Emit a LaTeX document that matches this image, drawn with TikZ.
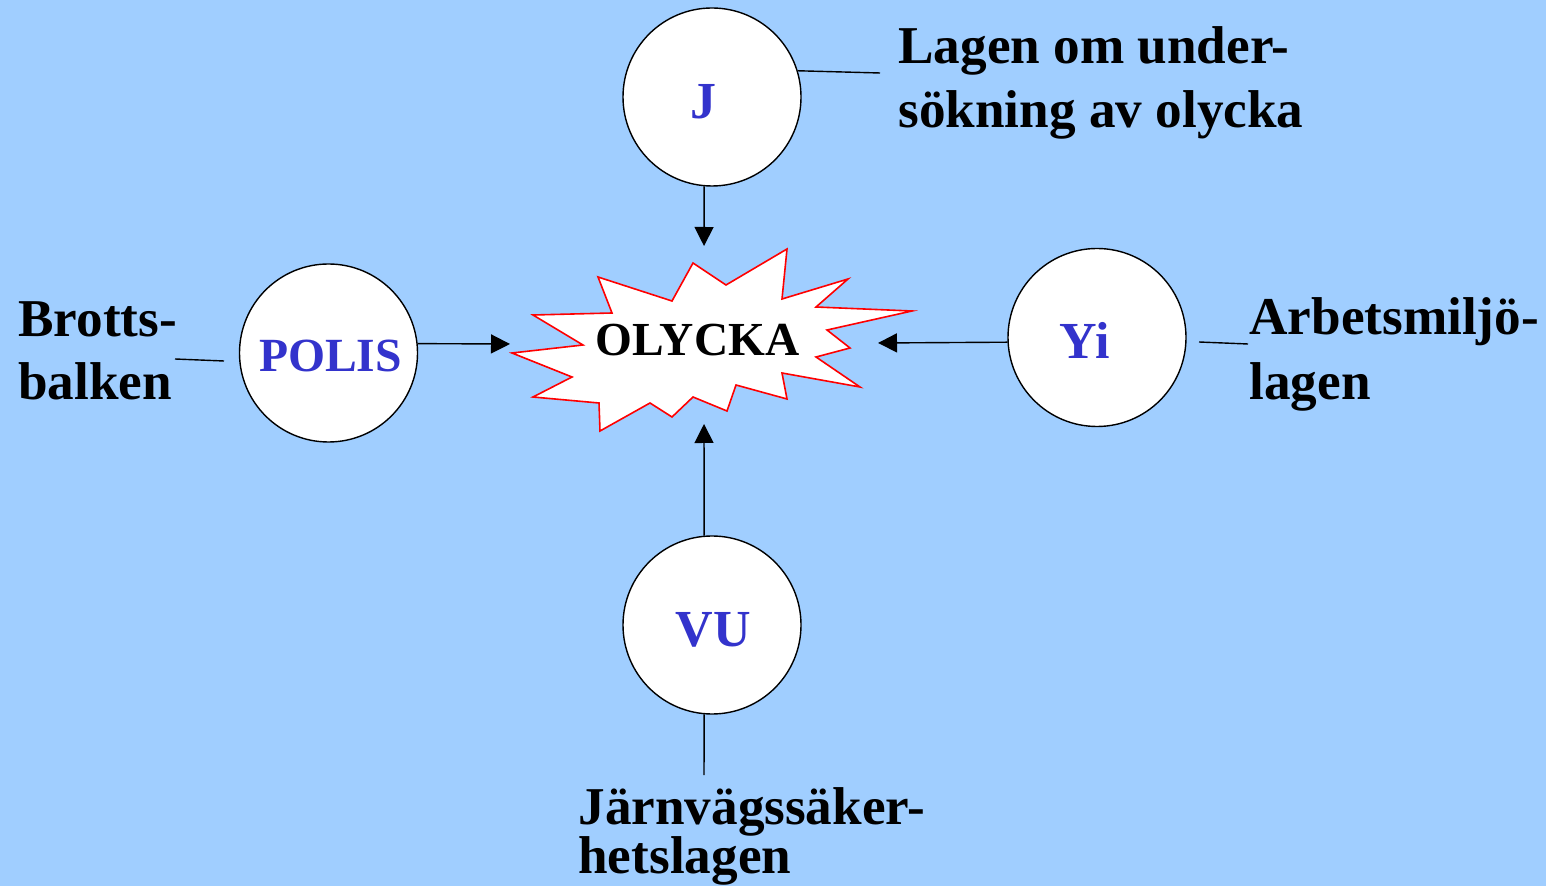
\documentclass[tikz,border=0pt]{standalone}
\usepackage{fontspec}
\setmainfont{Liberation Serif}
\usetikzlibrary{arrows.meta}
\definecolor{bg}{RGB}{160,206,255}
\definecolor{lettblue}{RGB}{51,51,204}
\newcommand\twoln[3]{\vtop{\baselineskip=#3\relax\hbox{#1}\hbox{#2}}}
\begin{document}
\begin{tikzpicture}[x=0.5pt,y={(0pt,-0.5pt)},
  circ/.style={circle, draw=black, line width=0.7pt, fill=white, minimum size=89pt, inner sep=0pt},
  ctext/.style={inner sep=0pt, font=\fontsize{26}{30}\selectfont\bfseries, text=lettblue},
  lbl/.style={anchor=base west, inner sep=0pt, font=\fontsize{26.6}{31.5}\selectfont\bfseries},
  arr/.style={line width=0.7pt, -{Triangle[length=9.5pt,width=9.5pt]}},
  ln/.style={line width=0.7pt},
  burst/.style={draw=red, line width=0.8pt, fill=white, line join=miter}]
\fill[bg] (0,0) rectangle (1546,886);
\useasboundingbox (0,0) rectangle (1546,886);
% starburst
\draw[burst] (693,263) -- (726,285) -- (787,249) -- (782,299) -- (848,279) -- (816,307)
  -- (912,311) -- (827,330) -- (850,348) -- (816,357) -- (860,387) -- (782,373)
  -- (787,399) -- (736,385) -- (727,411) -- (693,397) -- (672,417) -- (650,403)
  -- (600,431) -- (599,403) -- (533,397) -- (572,377) -- (512,353) -- (583,345)
  -- (533,315) -- (612,313) -- (598,277) -- (672,301) -- cycle;
\node[font=\fontsize{23.7}{28}\selectfont\bfseries, inner sep=0pt] (oly) at (697.5,340.5) {OLYCKA};
% circles
\node[circ] (J) at (712,97) {};
\node[circ] (POLIS) at (328.5,353) {};
\node[circ] (Yi) at (1097,337.5) {};
\node[circ] (VU) at (712,625) {};
\node[ctext] (Jt) at (703.5,101.5) {J};
\node[ctext, font=\fontsize{23.8}{28}\selectfont\bfseries] (POLISt) at (330.5,355.5) {POLIS};
\node[ctext] (Yit) at (1085,340) {Yi};
\node[ctext] (VUt) at (713,629.5) {VU};
% arrows to the burst
\coordinate (tJ) at (704,246);
\coordinate (tP) at (510,344);
\coordinate (tY) at (878,343);
\coordinate (tV) at (704,424);
\draw[arr] (J.265) -- (tJ);
\draw[arr] (POLIS.6.5) -- (tP);
\draw[arr] (Yi.183.5) -- (tY);
\draw[arr] (VU.95) -- (tV);
% label lines
\coordinate (jl) at (880,73);
\draw[ln] (J.17) -- (jl);
\coordinate (pl1) at (175,359);
\coordinate (pl2) at (224,361);
\draw[ln] (pl1) -- (pl2);
\coordinate (yl1) at (1199,342);
\coordinate (yl2) at (1248,344);
\draw[ln] (yl1) -- (yl2);
\coordinate (vl) at (704,775);
\draw[ln] (VU.265) -- (vl);
% labels
\node[lbl] (labJ) at (898,64) {\twoln{Lagen om under-}{sökning av olycka}{32pt}};
\node[lbl] (labP) at (18,337) {\twoln{Brotts-}{balken}{31.5pt}};
\node[lbl] (labY) at (1249,335) {\twoln{Arbetsmiljö-}{lagen}{32.5pt}};
\node[lbl] (labV) at (578,824) {\twoln{Järnvägssäker-}{hetslagen}{24.5pt}};
\end{tikzpicture}
\end{document}
